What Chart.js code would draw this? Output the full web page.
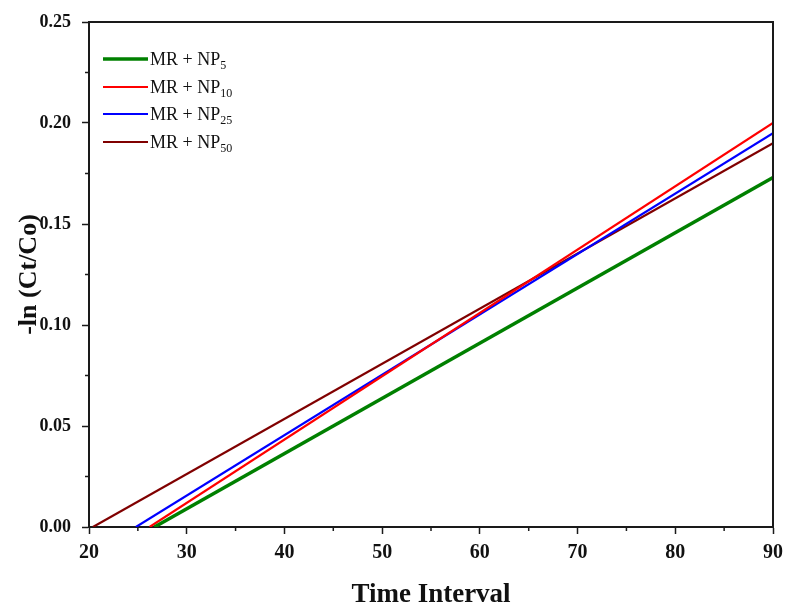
<!DOCTYPE html>
<html>
<head>
<meta charset="utf-8">
<script src="https://cdn.jsdelivr.net/npm/chart.js@4/dist/chart.umd.min.js"></script>
<style>
    html, body { margin: 0; padding: 0; background: #fff; }
    #wrap { width: 786px; height: 605px; }
</style>
</head>
<body>
<div id="wrap"><canvas id="kineticsChart"></canvas></div>
<script>
// 시리즈 이름 (아래첨자는 따로)
const seriesNames = ['MR + NP', 'MR + NP', 'MR + NP', 'MR + NP'];
const seriesSubs = ['5', '10', '25', '50'];
const seriesColors = ['#008000', '#ff0000', '#0000ff', '#800000'];
const seriesWidths = [3.5, 2.2, 2.2, 2.2];

// 각 직선의 시작/끝 (Time Interval, -ln(Ct/Co))
const np5Time = [26.7, 90];
const np5Value = [0, 0.173];
const np10Time = [26.2, 90];
const np10Value = [0, 0.2];
const np25Time = [24.8, 90];
const np25Value = [0, 0.195];
const np50Time = [20.4, 90];
const np50Value = [0, 0.19];

const xTicks = [20, 30, 40, 50, 60, 70, 80, 90];
const yTicks = [0, 0.05, 0.10, 0.15, 0.20, 0.25];

const serif = "'Liberation Serif', 'Times New Roman', serif";

function toPoints(xs, ys) {
    return xs.map((x, i) => ({ x: x, y: ys[i] }));
}

const allTimes = [np5Time, np10Time, np25Time, np50Time];
const allValues = [np5Value, np10Value, np25Value, np50Value];

const datasets = allTimes.map((t, i) => ({
    label: seriesNames[i] + seriesSubs[i],
    data: toPoints(t, allValues[i]),
    borderColor: seriesColors[i],
    backgroundColor: seriesColors[i],
    borderWidth: seriesWidths[i],
    pointRadius: 0,
    fill: false,
    tension: 0
}));

// 보조 눈금 + 위/오른쪽 테두리 + 범례
const framePlugin = {
    id: 'framePlugin',
    afterDraw(chart) {
        const ctx = chart.ctx;
        const area = chart.chartArea;
        const xs = chart.scales.x;
        const ys = chart.scales.y;
        ctx.save();
        ctx.strokeStyle = '#1a1a1a';
        ctx.lineWidth = 1.5;
        // minor ticks
        for (let v = 25; v < 90; v += 10) {
            const px = xs.getPixelForValue(v);
            ctx.beginPath();
            ctx.moveTo(px, area.bottom);
            ctx.lineTo(px, area.bottom + 4);
            ctx.stroke();
        }
        for (let v = 0.025; v < 0.25; v += 0.05) {
            const py = ys.getPixelForValue(v);
            ctx.beginPath();
            ctx.moveTo(area.left, py);
            ctx.lineTo(area.left - 4, py);
            ctx.stroke();
        }
        // top and right border
        ctx.lineWidth = 2;
        ctx.beginPath();
        ctx.moveTo(area.left, area.top);
        ctx.lineTo(area.right, area.top);
        ctx.lineTo(area.right, area.bottom);
        ctx.stroke();

        // legend
        const lx = 103, lineLen = 45;
        const rowY = [59, 87, 114, 142];
        chart.data.datasets.forEach((ds, i) => {
            const y = rowY[i];
            ctx.strokeStyle = ds.borderColor;
            ctx.lineWidth = ds.borderWidth;
            ctx.beginPath();
            ctx.moveTo(lx, y);
            ctx.lineTo(lx + lineLen, y);
            ctx.stroke();
            ctx.fillStyle = '#111';
            ctx.textBaseline = 'alphabetic';
            ctx.textAlign = 'left';
            ctx.font = '18px ' + serif;
            const tx = lx + lineLen + 2;
            ctx.fillText(seriesNames[i], tx, y + 6);
            const w = ctx.measureText(seriesNames[i]).width;
            ctx.font = '12px ' + serif;
            ctx.fillText(seriesSubs[i], tx + w, y + 10);
        });
        ctx.restore();
    }
};

const ctx = document.getElementById('kineticsChart').getContext('2d');
new Chart(ctx, {
    type: 'line',
    data: { datasets: datasets },
    options: {
        responsive: true,
        maintainAspectRatio: false,
        animation: false,
        layout: { padding: { top: 22, right: 13, left: 0, bottom: 0 } },
        plugins: {
            legend: { display: false },
            tooltip: { enabled: false }
        },
        scales: {
            x: {
                type: 'linear',
                min: 20,
                max: 90,
                afterBuildTicks: scale => { scale.ticks = xTicks.map(v => ({ value: v })); },
                afterFit: scale => {
                    scale.height = 78;
                    scale.paddingLeft = 0;
                    scale.paddingRight = 0;
                },
                ticks: {
                    color: '#111',
                    font: { family: serif, size: 20, weight: 'bold' },
                    padding: 7,
                    maxRotation: 0,
                    callback: v => String(v)
                },
                grid: {
                    drawOnChartArea: false,
                    tickLength: 7,
                    tickWidth: 1.5,
                    tickColor: '#1a1a1a'
                },
                border: { color: '#1a1a1a', width: 2 },
                title: {
                    display: true,
                    text: 'Time Interval',
                    color: '#111',
                    font: { family: serif, size: 27, weight: 'bold' },
                    padding: { top: 15, bottom: -6 }
                }
            },
            y: {
                type: 'linear',
                min: 0,
                max: 0.25,
                afterBuildTicks: scale => { scale.ticks = yTicks.map(v => ({ value: v })); },
                afterFit: scale => {
                    scale.width = 89;
                    scale.paddingTop = 0;
                    scale.paddingBottom = 0;
                },
                ticks: {
                    color: '#111',
                    font: { family: serif, size: 18, weight: 'bold' },
                    padding: 11,
                    callback: v => Number(v).toFixed(2)
                },
                grid: {
                    drawOnChartArea: false,
                    tickLength: 7,
                    tickWidth: 1.5,
                    tickColor: '#1a1a1a'
                },
                border: { color: '#1a1a1a', width: 2 },
                title: {
                    display: true,
                    text: '-ln (Ct/Co)',
                    color: '#111',
                    font: { family: serif, size: 26, weight: 'bold' },
                    padding: { top: 14, bottom: 0 }
                }
            }
        }
    },
    plugins: [framePlugin]
});
</script>
</body>
</html>
